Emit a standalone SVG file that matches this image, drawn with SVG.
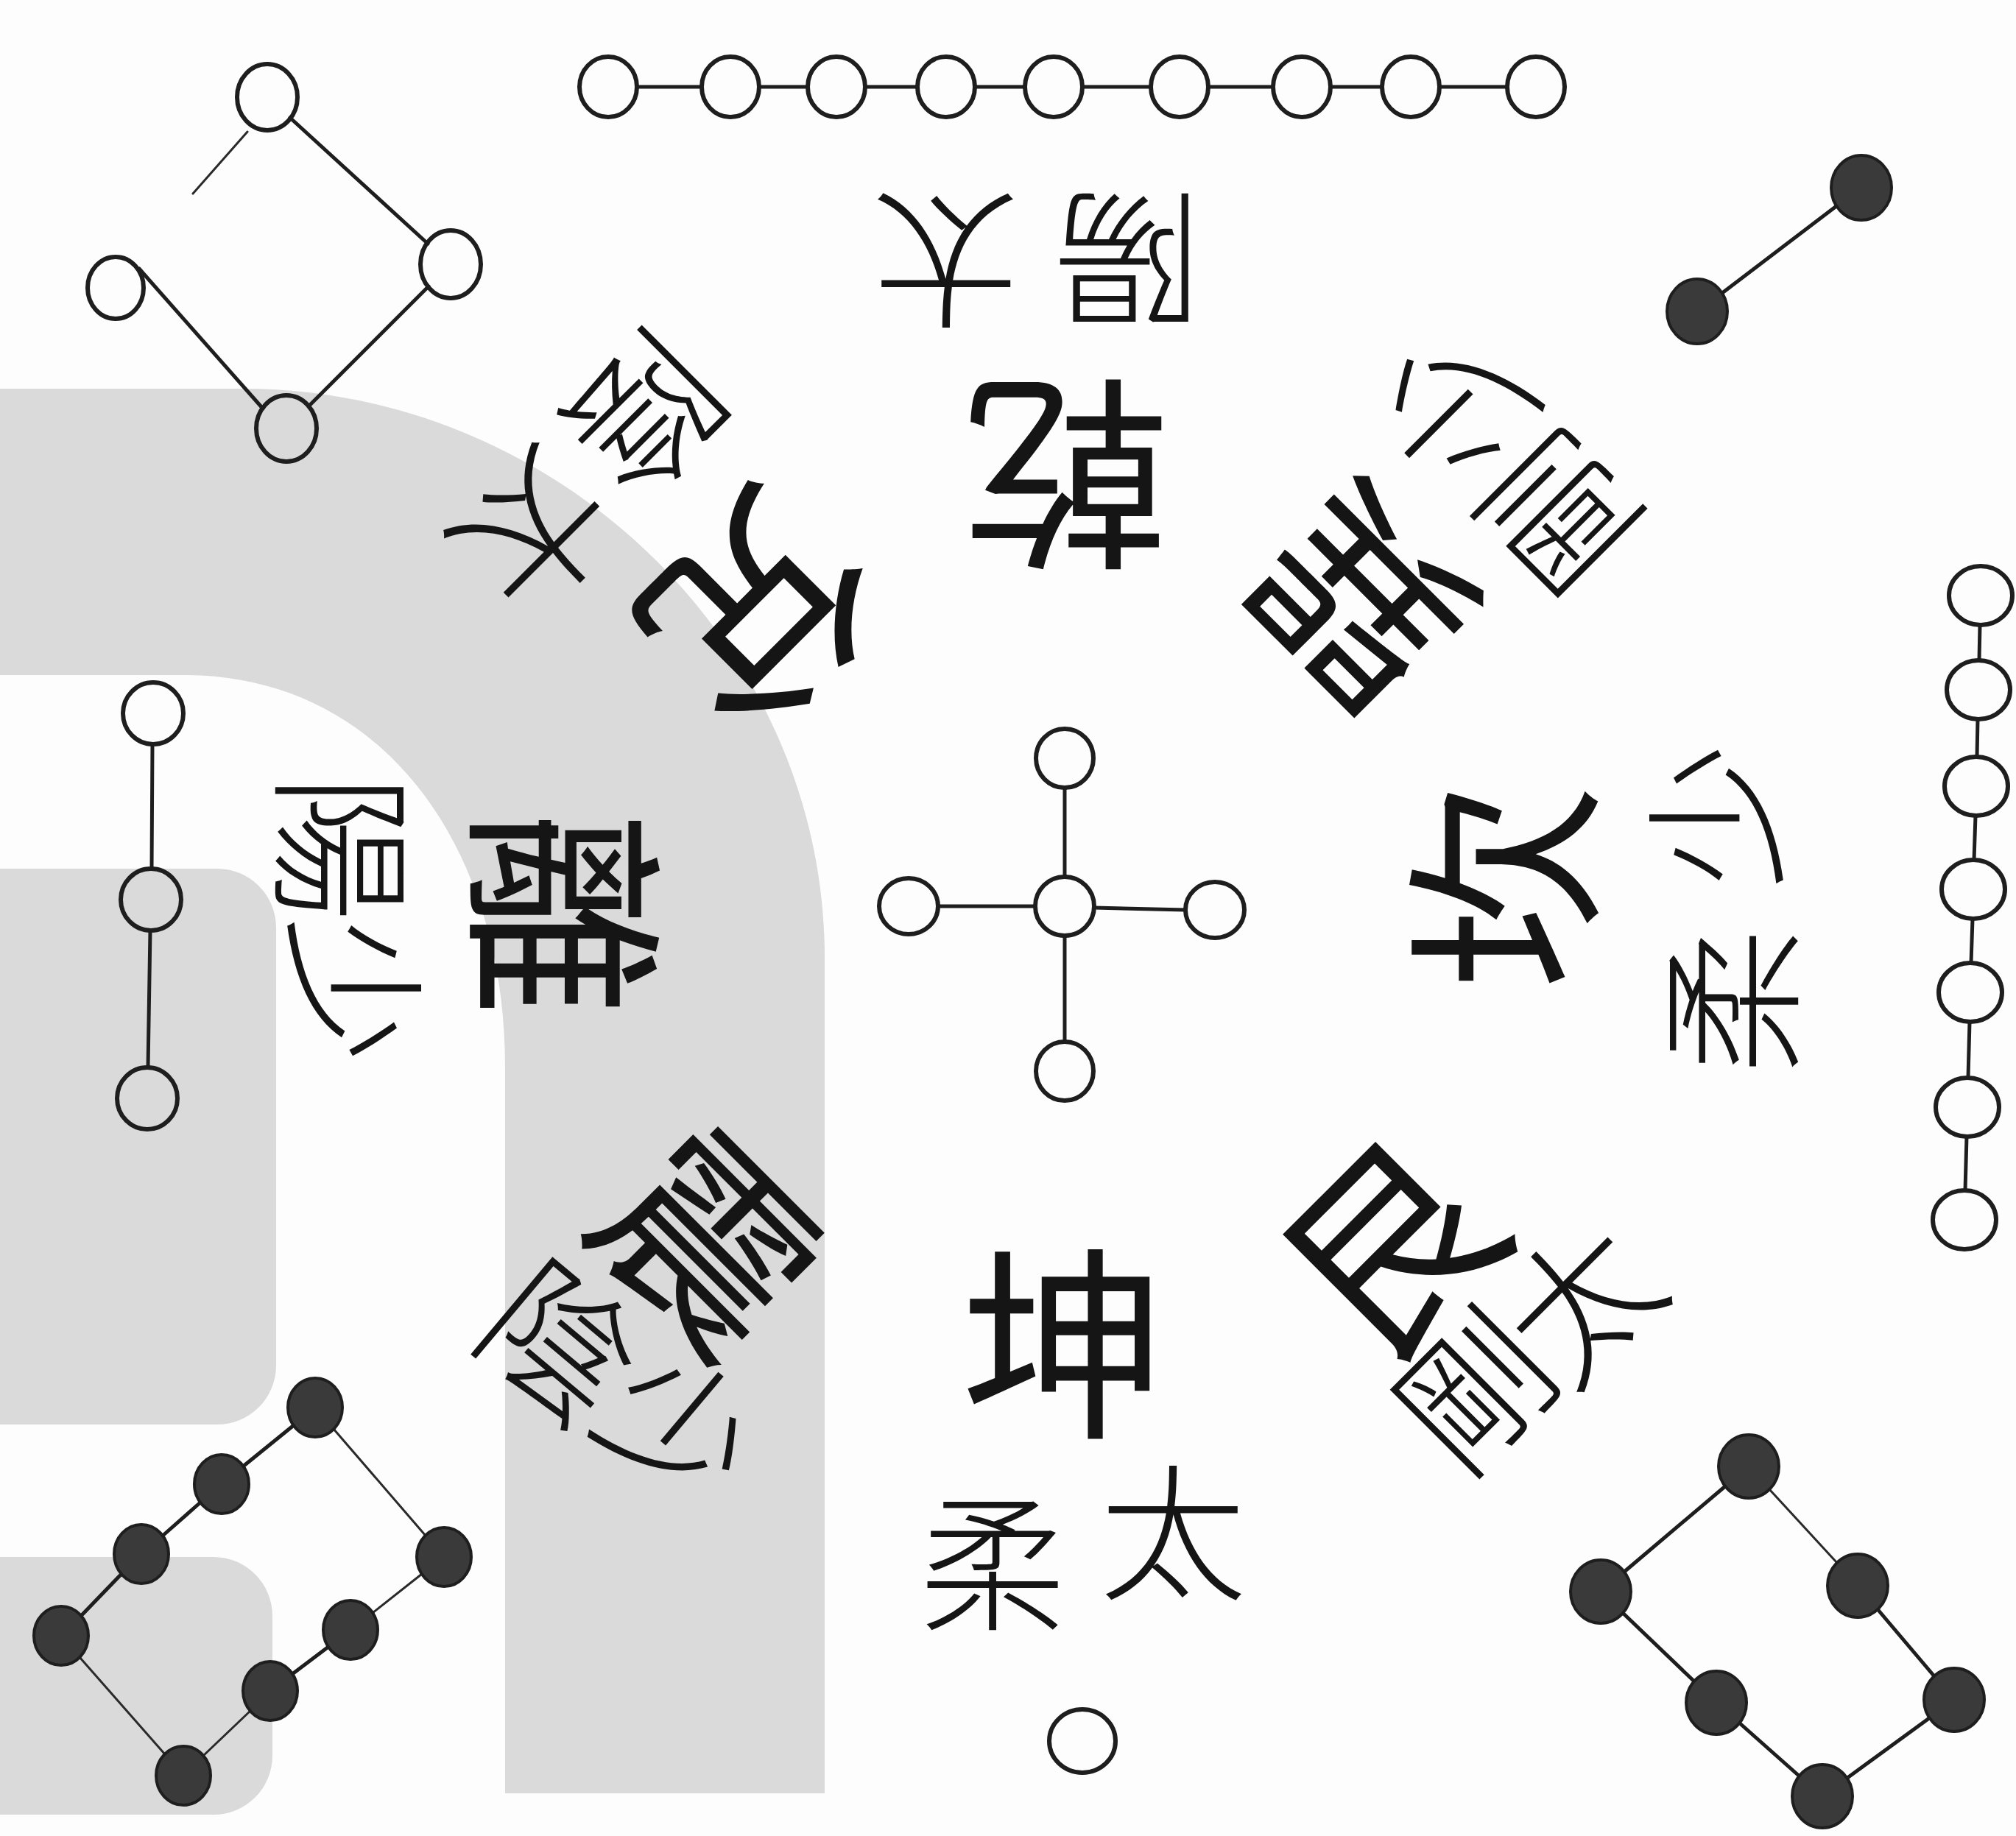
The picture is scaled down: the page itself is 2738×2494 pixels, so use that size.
<svg xmlns="http://www.w3.org/2000/svg" width="2738" height="2494" viewBox="0 0 2738 2494">
<defs>
<style>
.bg{fill:#fdfdfd}
.grey{fill:#dadada}
.c{fill:none;stroke:#1e1e1e;stroke-width:6}
.d{fill:#3a3a3a;stroke:#1e1e1e;stroke-width:4}
.ln{stroke:#1e1e1e;stroke-width:5;fill:none;stroke-linecap:round}
.thin{stroke:#2a2a2a;stroke-width:3;fill:none;stroke-linecap:round}
.big{font-family:"Noto Sans CJK TC","Noto Sans CJK SC",sans-serif;font-size:280px;font-weight:400;fill:#151515;text-anchor:middle;dominant-baseline:central}
.lab{font-family:"Noto Sans CJK TC","Noto Sans CJK SC",sans-serif;font-size:200px;font-weight:300;fill:#151515;text-anchor:middle;dominant-baseline:central}
</style>
</defs>
<rect class="bg" x="0" y="0" width="2738" height="2494"/>
<g id="shading">
<path class="grey" d="M0 528 L330 528 C760 528 1120 880 1120 1300 L1120 2436 L686 2436 L686 1450 C686 1150 520 917 250 917 L0 917 Z"/>
<rect class="grey" x="-100" y="1180" width="475" height="755" rx="80"/>
<rect class="grey" x="-100" y="2115" width="470" height="350" rx="80"/>
</g>
<g id="connectors">
<line class="ln" x1="865" y1="118" x2="953" y2="118"/>
<line class="ln" x1="1031" y1="118" x2="1097" y2="118"/>
<line class="ln" x1="1175" y1="118" x2="1246" y2="118"/>
<line class="ln" x1="1324" y1="118" x2="1392" y2="118"/>
<line class="ln" x1="1470" y1="118" x2="1563" y2="118"/>
<line class="ln" x1="1641" y1="118" x2="1729" y2="118"/>
<line class="ln" x1="1807" y1="118" x2="1877" y2="118"/>
<line class="ln" x1="1955" y1="118" x2="2047" y2="118"/>
<line class="ln" x1="2689" y1="849" x2="2688" y2="897"/>
<line class="ln" x1="2686" y1="977" x2="2685" y2="1028"/>
<line class="ln" x1="2683" y1="1108" x2="2681" y2="1168"/>
<line class="ln" x1="2679" y1="1248" x2="2677" y2="1308"/>
<line class="ln" x1="2675" y1="1388" x2="2673" y2="1464"/>
<line class="ln" x1="2671" y1="1544" x2="2669" y2="1617"/>
<line class="ln" x1="207" y1="1011" x2="206" y2="1180"/>
<line class="ln" x1="204" y1="1264" x2="201" y2="1450"/>
<line class="ln" x1="1446" y1="1070" x2="1446" y2="1191"/>
<line class="ln" x1="1446" y1="1271" x2="1446" y2="1415"/>
<line class="ln" x1="1274" y1="1231" x2="1406" y2="1231"/>
<line class="ln" x1="1486" y1="1233" x2="1610" y2="1236"/>
<line class="ln" x1="394" y1="160" x2="581" y2="331"/>
<line class="ln" x1="582" y1="389" x2="419" y2="552"/>
<line class="ln" x1="357" y1="555" x2="189" y2="365"/>
<line class="thin" x1="336" y1="179" x2="262" y2="263"/>
<line class="ln" x1="2494" y1="280" x2="2339" y2="398"/>
<line class="ln" x1="399" y1="1936" x2="330" y2="1992"/>
<line class="ln" x1="272" y1="2041" x2="221" y2="2086"/>
<line class="ln" x1="165" y1="2138" x2="110" y2="2195"/>
<line class="thin" x1="453" y1="1941" x2="578" y2="2086"/>
<line class="thin" x1="573" y1="2138" x2="506" y2="2191"/>
<line class="ln" x1="446" y1="2237" x2="397" y2="2274"/>
<line class="thin" x1="340" y1="2324" x2="276" y2="2385"/>
<line class="thin" x1="108" y1="2251" x2="224" y2="2383"/>
<line class="ln" x1="2343" y1="2019" x2="2206" y2="2135"/>
<line class="thin" x1="2403" y1="2023" x2="2495" y2="2123"/>
<line class="ln" x1="2204" y1="2191" x2="2301" y2="2284"/>
<line class="ln" x1="2550" y1="2186" x2="2627" y2="2277"/>
<line class="ln" x1="2363" y1="2341" x2="2443" y2="2412"/>
<line class="ln" x1="2620" y1="2334" x2="2509" y2="2415"/>
</g>
<g id="top-chain">
<ellipse class="c" cx="826" cy="118" rx="39" ry="41"/>
<ellipse class="c" cx="992" cy="118" rx="39" ry="41"/>
<ellipse class="c" cx="1136" cy="118" rx="39" ry="41"/>
<ellipse class="c" cx="1285" cy="118" rx="39" ry="41"/>
<ellipse class="c" cx="1431" cy="118" rx="39" ry="41"/>
<ellipse class="c" cx="1602" cy="118" rx="39" ry="41"/>
<ellipse class="c" cx="1768" cy="118" rx="39" ry="41"/>
<ellipse class="c" cx="1916" cy="118" rx="39" ry="41"/>
<ellipse class="c" cx="2086" cy="118" rx="39" ry="41"/>
</g>
<g id="right-chain">
<ellipse class="c" cx="2690" cy="809" rx="43" ry="40"/>
<ellipse class="c" cx="2687" cy="937" rx="43" ry="40"/>
<ellipse class="c" cx="2684" cy="1068" rx="43" ry="40"/>
<ellipse class="c" cx="2680" cy="1208" rx="43" ry="40"/>
<ellipse class="c" cx="2676" cy="1348" rx="43" ry="40"/>
<ellipse class="c" cx="2672" cy="1504" rx="43" ry="40"/>
<ellipse class="c" cx="2668" cy="1657" rx="43" ry="40"/>
</g>
<g id="left-chain">
<ellipse class="c" cx="208" cy="969" rx="41" ry="42"/>
<ellipse class="c" cx="205" cy="1222" rx="41" ry="42"/>
<ellipse class="c" cx="200" cy="1492" rx="41" ry="42"/>
</g>
<g id="center-cross">
<ellipse class="c" cx="1446" cy="1030" rx="39" ry="40"/>
<ellipse class="c" cx="1446" cy="1231" rx="40" ry="40"/>
<ellipse class="c" cx="1446" cy="1455" rx="39" ry="40"/>
<ellipse class="c" cx="1234" cy="1231" rx="40" ry="38"/>
<ellipse class="c" cx="1650" cy="1236" rx="40" ry="38"/>
</g>
<g id="top-left-diamond">
<ellipse class="c" cx="363" cy="132" rx="41" ry="45"/>
<ellipse class="c" cx="612" cy="359" rx="41" ry="46"/>
<ellipse class="c" cx="389" cy="582" rx="41" ry="45"/>
<ellipse class="c" cx="157" cy="391" rx="38" ry="42"/>
</g>
<g id="top-right-pair">
<ellipse class="d" cx="2528" cy="255" rx="41" ry="44"/>
<ellipse class="d" cx="2305" cy="423" rx="41" ry="44"/>
</g>
<g id="bottom-left-dots">
<ellipse class="d" cx="428" cy="1912" rx="37" ry="40"/>
<ellipse class="d" cx="301" cy="2016" rx="37" ry="40"/>
<ellipse class="d" cx="192" cy="2111" rx="37" ry="40"/>
<ellipse class="d" cx="83" cy="2222" rx="37" ry="40"/>
<ellipse class="d" cx="603" cy="2115" rx="37" ry="40"/>
<ellipse class="d" cx="476" cy="2214" rx="37" ry="40"/>
<ellipse class="d" cx="367" cy="2297" rx="37" ry="40"/>
<ellipse class="d" cx="249" cy="2412" rx="37" ry="40"/>
</g>
<g id="bottom-right-dots">
<ellipse class="d" cx="2375" cy="1992" rx="41" ry="43"/>
<ellipse class="d" cx="2174" cy="2162" rx="41" ry="43"/>
<ellipse class="d" cx="2523" cy="2154" rx="41" ry="43"/>
<ellipse class="d" cx="2331" cy="2313" rx="41" ry="43"/>
<ellipse class="d" cx="2654" cy="2309" rx="41" ry="43"/>
<ellipse class="d" cx="2475" cy="2440" rx="41" ry="43"/>
</g>
<g id="bottom-circle">
<ellipse class="c" cx="1470" cy="2365" rx="45" ry="43"/>
</g>
<g id="qian">
<text class="big" transform="translate(1449,660) rotate(180)">乾</text>
<text class="lab" transform="translate(1285,365) rotate(180)">太</text>
<text class="lab" transform="translate(1531,365) rotate(180)">陽</text>
</g>
<g id="dui">
<text class="big" style="font-size:300px" transform="translate(1045,845) rotate(135)">兌</text>
<text class="lab" transform="translate(735,732) rotate(135)">太</text>
<text class="lab" transform="translate(885,572) rotate(135)">陰</text>
</g>
<g id="li">
<text class="big" transform="translate(782,1240) rotate(90)">離</text>
<text class="lab" transform="translate(492,1345) rotate(90)">少</text>
<text class="lab" transform="translate(476,1152) rotate(90)">陽</text>
</g>
<g id="zhen">
<text class="big" transform="translate(975,1675) rotate(45)">震</text>
<text class="lab" transform="translate(930,1930) rotate(40)">少</text>
<text class="lab" transform="translate(768,1815) rotate(40)">陰</text>
</g>
<g id="xun">
<text class="big" transform="translate(1835,825) rotate(-135)">巽</text>
<text class="lab" transform="translate(1965,560) rotate(-135)">少</text>
<text class="lab" transform="translate(2108,705) rotate(-135)">剛</text>
</g>
<g id="kan">
<text class="big" transform="translate(2027,1205) rotate(-90)">坎</text>
<text class="lab" transform="translate(2320,1108) rotate(-90)">少</text>
<text class="lab" transform="translate(2340,1360) rotate(-90)">柔</text>
</g>
<g id="gen">
<text class="big" transform="translate(1877,1683) rotate(-45)">艮</text>
<text class="lab" transform="translate(2139,1760) rotate(-45)">太</text>
<text class="lab" transform="translate(1995,1880) rotate(-45)">剛</text>
</g>
<g id="kun">
<text class="big" transform="translate(1445,1810)">坤</text>
<text class="lab" transform="translate(1593,2071)">太</text>
<text class="lab" transform="translate(1348,2112)">柔</text>
</g>
</svg>
